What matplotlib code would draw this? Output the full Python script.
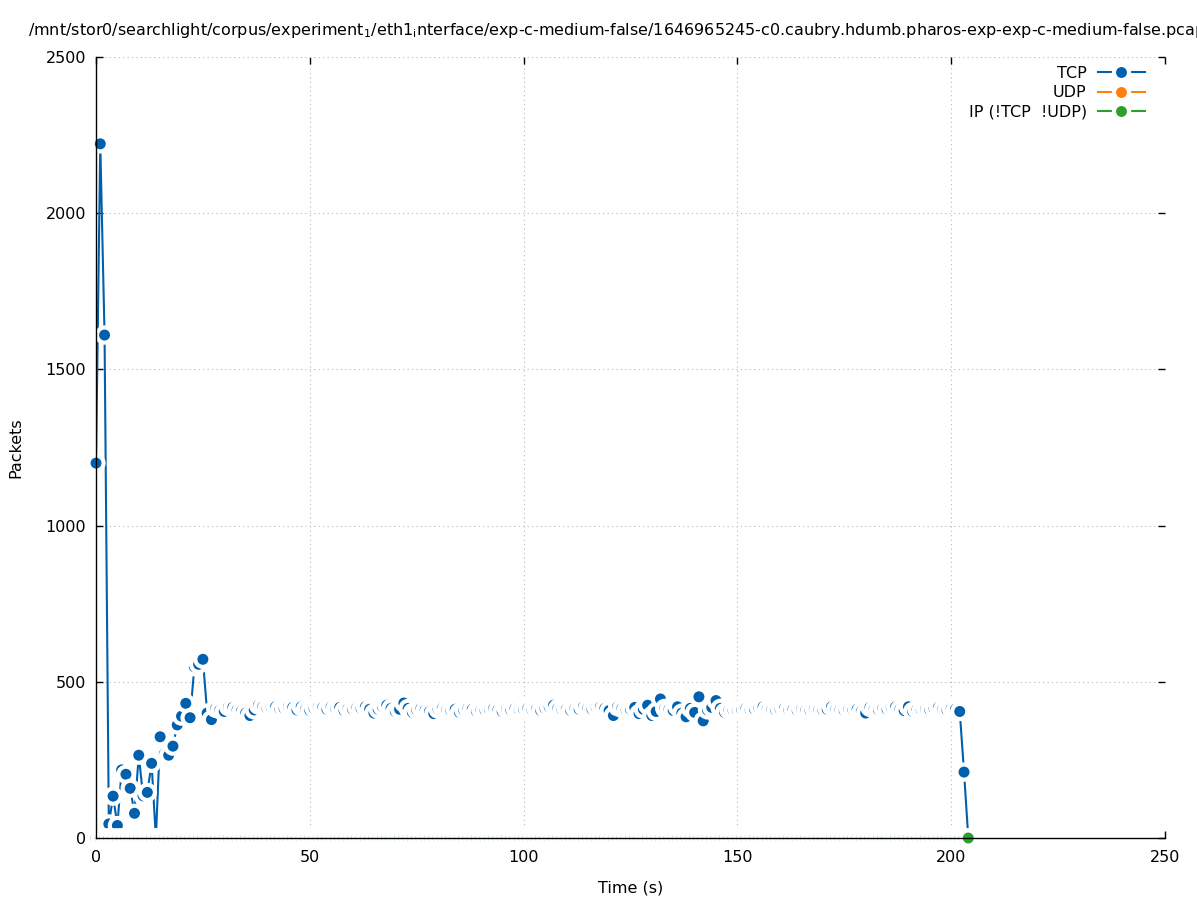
import matplotlib
matplotlib.use("Agg")
import matplotlib.pyplot as plt
import numpy as np
from matplotlib.lines import Line2D

# ---------------- data ----------------
time_s = list(range(0, 205))

tcp_packets = [
    1200, 2222, 1610, 45, 134, 40, 218, 204, 159, 79,        # 0-9
    265, 135, 146, 239, 0, 324, 270, 265, 294, 362,          # 10-19
    390, 431, 385, 548, 556, 572, 400, 379, 415, 410,        # 20-29
    405, 420, 418, 410, 405, 400, 392, 410, 425, 420,        # 30-39
    415, 418, 420, 412, 415, 420, 418, 410, 420, 412,        # 40-49
    408, 415, 420, 418, 412, 420, 415, 418, 408, 415,        # 50-59
    412, 418, 415, 420, 412, 400, 412, 420, 425, 415,        # 60-69
    405, 412, 432, 415, 402, 410, 415, 410, 405, 398,        # 70-79
    412, 415, 410, 408, 412, 402, 410, 415, 412, 405,        # 80-89
    410, 408, 412, 415, 410, 405, 412, 410, 415, 410,        # 90-99
    412, 415, 410, 412, 408, 415, 420, 425, 415, 410,        # 100-109
    412, 408, 415, 412, 420, 415, 412, 418, 420, 415,        # 110-119
    408, 392, 420, 415, 410, 412, 418, 398, 412, 425,        # 120-129
    392, 405, 445, 415, 412, 408, 420, 400, 388, 415,        # 130-139
    402, 452, 375, 410, 418, 440, 415, 402, 410, 408,        # 140-149
    410, 412, 415, 410, 412, 418, 420, 412, 410, 408,        # 150-159
    412, 415, 410, 412, 408, 412, 410, 408, 412, 410,        # 160-169
    408, 412, 420, 412, 410, 408, 412, 410, 412, 405,        # 170-179
    400, 418, 412, 410, 415, 412, 418, 420, 412, 408,        # 180-189
    420, 405, 412, 410, 412, 410, 415, 418, 412, 410,        # 190-199
    415, 412, 405, 211, 0,                                   # 200-204
]
udp_packets = [0] * len(time_s)
ip_packets = [0] * len(time_s)

series_labels = ["TCP", "UDP", "IP (!TCP  !UDP)"]
series_colors = ["#0060ad", "#ff7f0e", "#2ca02c"]

x_ticks = [0, 50, 100, 150, 200, 250]
y_ticks = [0, 500, 1000, 1500, 2000, 2500]

title_text = ("/mnt/stor0/searchlight/corpus/experiment$_{1}$/eth1$_{\\mathrm{i}}$nterface/"
              "exp-c-medium-false/1646965245-c0.caubry.hdumb.pharos-exp-exp-c-medium-false.pcap")

FS = 11.5

# ---------------- figure ----------------
W, H = 1197, 900
fig = plt.figure(figsize=(W / 100, H / 100), dpi=100)
L, R, T, B = 96, 1165, 57, 838
ax = fig.add_axes([L / W, 1 - B / H, (R - L) / W, (B - T) / H])

ax.set_xlim(0, 250)
ax.set_ylim(0, 2500)
ax.set_xticks(x_ticks)
ax.set_yticks(y_ticks)
ax.tick_params(direction="in", length=5, width=1, top=True, right=True,
               labelsize=FS, pad=7, colors="black")
ax.tick_params(axis="x", pad=9)
for s in ["top", "right"]:
    ax.spines[s].set_visible(False)
for s in ["left", "bottom"]:
    ax.spines[s].set_linewidth(1.0)
    ax.spines[s].set_zorder(10)

ax.grid(True, color="#b8b8b8", linestyle=(0, (1, 3)), linewidth=0.8)
ax.set_axisbelow(True)

DOT = 7.9    # pt
HALO = 13.9  # pt
LW = 1.5

all_series = [tcp_packets, udp_packets, ip_packets]
for i, (vals, col) in enumerate(zip(all_series, series_colors)):
    z = 3 + i
    ax.plot(time_s, vals, color=col, lw=LW, zorder=z)
    n = len(vals)
    xs = np.repeat(np.asarray(time_s, float), 2)
    ys = np.repeat(np.asarray(vals, float), 2)
    sizes = np.tile([HALO ** 2, DOT ** 2], n)
    cols = ["white", col] * n
    ax.scatter(xs, ys, s=sizes, c=cols, linewidths=0, zorder=z + 0.5, clip_on=False)

# legend: line with a white-rimmed dot (gap around the point)
ms_leg = (DOT + HALO) / 2
mew_leg = (HALO - DOT) / 2
handles = [Line2D([], [], color=col, lw=LW, marker="o", ms=ms_leg, mfc=col,
                  mec="white", mew=mew_leg) for col in series_colors]
leg = ax.legend(handles, series_labels,
                loc="upper right", bbox_to_anchor=((1145 - L) / (R - L), (B - 66) / (B - T)),
                borderaxespad=0, borderpad=0, frameon=False, markerfirst=False,
                fontsize=FS, handlelength=2.95, handletextpad=0.7, labelspacing=0.27)
leg.set_zorder(20)

ax.set_xlabel("Time (s)", fontsize=FS, labelpad=11)
ax.set_ylabel("Packets", fontsize=FS, labelpad=16)

fig.text(28 / W, 1 - 31 / H, title_text, ha="left", va="center", fontsize=FS)

fig.savefig("out.png", dpi=100)
